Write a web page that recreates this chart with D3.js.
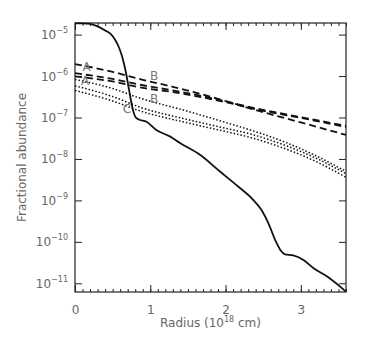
<!DOCTYPE html>
<html>
<head>
<meta charset="utf-8">
<script src="https://cdn.jsdelivr.net/npm/d3@7"></script>
<style>
body{margin:0;background:#fff;}
text{font-family:"DejaVu Sans",sans-serif;fill:#666;}
</style>
</head>
<body>
<div id="chart"></div>
<script>
// radius in 1e18 cm, abundances
var solidX = [0,0.1,0.2,0.3,0.4,0.47,0.53,0.58,0.62,0.65,0.68,0.71,0.74,0.77,0.80,0.84,0.95,1.08,1.26,1.40,1.66,1.93,2.15,2.37,2.48,2.57,2.66,2.73,2.79,2.90,3.04,3.17,3.35,3.6];
var solidY = [1.86e-5,1.86e-5,1.82e-5,1.58e-5,1.26e-5,1.05e-5,7.6e-6,5.1e-6,3.2e-6,2.0e-6,1.12e-6,5.6e-7,2.8e-7,1.51e-7,1.05e-7,9.1e-8,7.9e-8,5.0e-8,3.5e-8,2.4e-8,1.26e-8,4.9e-9,2.3e-9,1.02e-9,5.8e-10,2.8e-10,1.1e-10,6.3e-11,5.0e-11,4.7e-11,3.6e-11,2.3e-11,1.45e-11,6.3e-12];

var dashX = [0,0.5,0.9,1.3,1.6,2.0,2.4,3.0,3.6];
var dashA = [1.95e-6,1.26e-6,8.1e-7,5.5e-7,4.0e-7,2.5e-7,1.51e-7,7.6e-8,3.8e-8];
var dashB = [1.17e-6,8.5e-7,6.0e-7,4.5e-7,3.55e-7,2.45e-7,1.66e-7,1.02e-7,6.3e-8];
var dashC = [9.8e-7,7.4e-7,5.2e-7,4.1e-7,3.3e-7,2.35e-7,1.58e-7,9.8e-8,5.9e-8];

var dotX = [0,0.5,0.86,1.5,2.0,2.33,2.8,3.2,3.6];
var dotA = [8.3e-7,5.0e-7,2.95e-7,1.41e-7,7.6e-8,5.0e-8,2.5e-8,1.2e-8,5.0e-9];
var dotB = [5.8e-7,3.2e-7,1.78e-7,8.9e-8,5.5e-8,4.0e-8,2.1e-8,1.05e-8,4.4e-9];
var dotC = [4.5e-7,2.5e-7,1.45e-7,7.4e-8,4.6e-8,3.3e-8,1.74e-8,8.7e-9,3.6e-9];

var labelText = ["A","A","B","B","C"];
var labelX = [0.155,0.135,1.05,1.05,0.69];
var labelY = [1.7e-6,7.4e-7,9.8e-7,2.8e-7,1.6e-7];

var xTicks = [0,1,2,3];
var yTicks = [1e-5,1e-6,1e-7,1e-8,1e-9,1e-10,1e-11];

var W = 368, H = 340;
var m = {l:75, t:23, r:22, b:48};
var w = W-m.l-m.r, h = H-m.t-m.b;

var svg = d3.select("#chart").append("svg").attr("width",W).attr("height",H);
var g = svg.append("g").attr("transform","translate("+m.l+","+m.t+")");

var x = d3.scaleLinear().domain([0,3.6]).range([0,w]);
var y = d3.scaleLog().domain([Math.pow(10,-11.21),Math.pow(10,-4.72)]).range([h,0]);

var minorX = d3.range(0,3.61,0.1);

// frame
g.append("rect").attr("width",w).attr("height",h).attr("fill","none").attr("stroke","#222").attr("stroke-width",1.2);

var tickStyle = function(sel){
  sel.select(".domain").remove();
  sel.selectAll("line").attr("stroke","#222");
};

// x ticks bottom/top, major + minor
g.append("g").attr("transform","translate(0,"+h+")")
  .call(d3.axisBottom(x).tickValues(minorX).tickSize(-3).tickFormat(""))
  .call(tickStyle);
g.append("g")
  .call(d3.axisTop(x).tickValues(minorX).tickSize(-3).tickFormat(""))
  .call(tickStyle);
var xb = g.append("g").attr("transform","translate(0,"+h+")")
  .call(d3.axisBottom(x).tickValues(xTicks).tickSize(-7).tickPadding(13).tickFormat(d3.format("d")))
  .call(tickStyle);
xb.selectAll("text").attr("font-size",12).style("fill","#666");
g.append("g")
  .call(d3.axisTop(x).tickValues(xTicks).tickSize(-7).tickFormat(""))
  .call(tickStyle);

// y ticks left/right
var yl = g.append("g")
  .call(d3.axisLeft(y).tickValues(yTicks).tickSize(-7).tickPadding(8).tickFormat(""))
  .call(tickStyle);
g.append("g").attr("transform","translate("+w+",0)")
  .call(d3.axisRight(y).tickValues(yTicks).tickSize(-7).tickFormat(""))
  .call(tickStyle);

yl.selectAll(".tick").each(function(d){
  var e = Math.round(Math.log10(d));
  var t = d3.select(this).append("text")
    .attr("x",-7).attr("y",4).attr("text-anchor","end")
    .attr("font-size",12).style("fill","#666");
  t.append("tspan").text("10");
  t.append("tspan").attr("dy",-6).attr("font-size",8).text("\u2212"+(-e));
});

// lines
var line = d3.line().x(d=>x(d[0])).y(d=>y(d[1])).curve(d3.curveMonotoneX);
var zip = (xs,ys)=>xs.map((v,i)=>[v,ys[i]]);

var plot = g.append("g");
[dotA,dotB,dotC].forEach(function(s){
  plot.append("path").datum(zip(dotX,s)).attr("d",line)
    .attr("fill","none").attr("stroke","#111").attr("stroke-width",1.5)
    .attr("stroke-dasharray","1.5,2");
});
[dashA,dashB,dashC].forEach(function(s){
  plot.append("path").datum(zip(dashX,s)).attr("d",line)
    .attr("fill","none").attr("stroke","#111").attr("stroke-width",1.8)
    .attr("stroke-dasharray","7,4");
});
plot.append("path").datum(zip(solidX,solidY)).attr("d",line)
  .attr("fill","none").attr("stroke","#111").attr("stroke-width",1.8);

// curve labels
g.selectAll(".lbl").data(labelText).enter().append("text")
  .attr("class","lbl")
  .attr("x",(d,i)=>x(labelX[i])).attr("y",(d,i)=>y(labelY[i]))
  .attr("text-anchor","middle").attr("dominant-baseline","central")
  .attr("font-size",12).style("fill","#777")
  .text(d=>d);

// axis titles
var xt = svg.append("text").attr("x",m.l+w/2).attr("y",327)
  .attr("text-anchor","middle").attr("font-size",12);
xt.append("tspan").text("Radius (10");
xt.append("tspan").attr("dy",-5).attr("font-size",8).text("18");
xt.append("tspan").attr("dy",5).text(" cm)");

svg.append("text").attr("transform","translate(26,"+(m.t+h/2)+") rotate(-90)")
  .attr("text-anchor","middle").attr("font-size",12)
  .text("Fractional abundance");
</script>
</body>
</html>
